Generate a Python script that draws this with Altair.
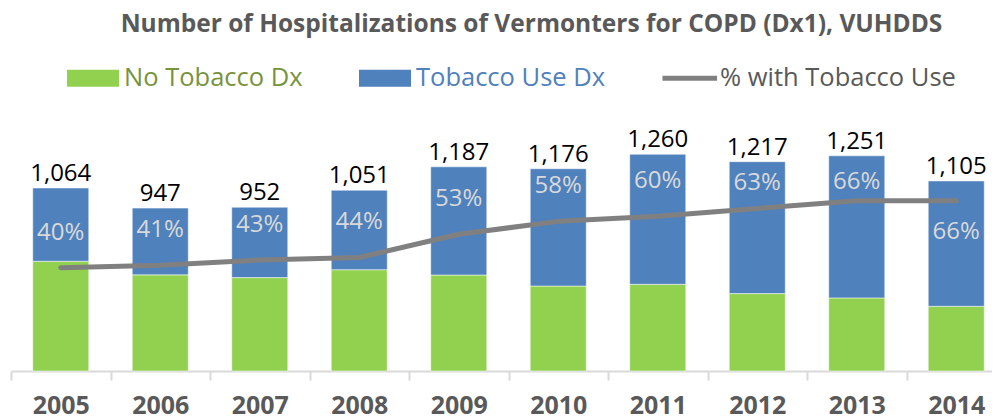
import altair as alt
import pandas as pd

years = ["2005", "2006", "2007", "2008", "2009", "2010", "2011", "2012", "2013", "2014"]
no_tobacco = [638, 559, 543, 589, 558, 494, 504, 450, 425, 376]
tobacco_use = [426, 388, 409, 462, 629, 682, 756, 767, 826, 729]
totals = [1064, 947, 952, 1051, 1187, 1176, 1260, 1217, 1251, 1105]
pct_tobacco = [0.40, 0.41, 0.43, 0.44, 0.53, 0.58, 0.60, 0.63, 0.66, 0.66]

series_names = ["No Tobacco Dx", "Tobacco Use Dx", "% with Tobacco Use"]
series_colors = ["#92d050", "#4f81bd", "#808080"]

FONT = "Open Sans"

rows = []
for i, y in enumerate(years):
    rows.append({"year": y, "series": series_names[0], "value": no_tobacco[i], "order": 0})
    rows.append({"year": y, "series": series_names[1], "value": tobacco_use[i], "order": 1})
long_df = pd.DataFrame(rows)
wide_df = pd.DataFrame({"year": years, "total": totals, "pct": pct_tobacco})

x_axis = alt.Axis(
    title=None, labelAngle=0, tickBand="extent",
    domainColor="#d9d9d9", domainWidth=2,
    tickColor="#d9d9d9", tickWidth=2, tickSize=9,
    labelFont=FONT, labelFontSize=25, labelFontWeight="bold",
    labelColor="#595959", labelPadding=13,
)
x_scale = alt.Scale(paddingInner=0, paddingOuter=0)


def xenc():
    return alt.X("year:N", scale=x_scale, axis=x_axis)


legend = alt.Legend(
    title=None, orient="none", direction="horizontal", legendX=56, legendY=-61,
    symbolType={"expr": "datum.value == '% with Tobacco Use' ? 'M-1.02,-0.096L1.08,-0.096L1.08,0.096L-1.02,0.096Z' : 'M-1,-0.327L1,-0.327L1,0.327L-1,0.327Z'"},
    symbolSize=2704, symbolStrokeWidth=0, symbolOpacity=1,
    labelFont=FONT, labelFontSize=25.5, labelOffset=5, labelLimit=400,
    labelColor={"expr": "datum.value == 'No Tobacco Dx' ? '#77933c' : datum.value == 'Tobacco Use Dx' ? '#4f81bd' : '#595959'"},
    columnPadding=56,
)

bars = alt.Chart(long_df).mark_bar(
    width=alt.RelativeBandSize(0.563), stroke="#ffffff", strokeWidth=1, strokeOpacity=0.5
).encode(
    x=xenc(),
    y=alt.Y("value:Q", stack="zero", scale=alt.Scale(domain=[0, 1500]), axis=None),
    color=alt.Color("series:N", scale=alt.Scale(domain=series_names, range=series_colors), legend=legend),
    order=alt.Order("order:Q", sort="ascending"),
)

total_text = alt.Chart(wide_df).mark_text(
    font=FONT, fontSize=24, color="#000000", baseline="bottom", dy=-2
).encode(
    x=xenc(),
    y=alt.Y("total:Q", scale=alt.Scale(domain=[0, 1500]), axis=None),
    text=alt.Text("total:Q", format=","),
)

line = alt.Chart(wide_df).mark_line(
    color="#808080", strokeWidth=5, strokeCap="round", strokeJoin="round"
).encode(
    x=xenc(),
    y=alt.Y("pct:Q", scale=alt.Scale(domain=[0, 1]), axis=None),
)


def pct_layer(filter_expr, dy):
    return alt.Chart(wide_df).transform_filter(filter_expr).mark_text(
        font=FONT, fontSize=24, color="#d9d9d9", baseline="middle", dy=dy
    ).encode(
        x=xenc(),
        y=alt.Y("pct:Q", scale=alt.Scale(domain=[0, 1]), axis=None),
        text=alt.Text("pct:Q", format=".0%"),
    )


pct_main = pct_layer("datum.year <= '2011'", -35)
pct_2012 = pct_layer("datum.year == '2012'", -25)
pct_2013 = pct_layer("datum.year == '2013'", -19)
pct_2014 = pct_layer("datum.year == '2014'", 31)

primary = alt.layer(bars, total_text)
secondary = alt.layer(line, pct_main, pct_2012, pct_2013, pct_2014)

chart = alt.layer(primary, secondary).resolve_scale(y="independent").properties(
    width=995,
    height=258,
    autosize="none",
    padding={"left": 3, "top": 105, "right": -14, "bottom": 48},
    title=alt.TitleParams(
        text="Number of Hospitalizations of Vermonters for COPD (Dx1), VUHDDS",
        font=FONT, fontSize=24.5, fontWeight="bold", color="#595959",
        anchor="middle", dx=23, dy=-11,
    ),
).configure_view(stroke=None)

chart.save("out.html", embed_options={"renderer": "svg", "actions": False})
